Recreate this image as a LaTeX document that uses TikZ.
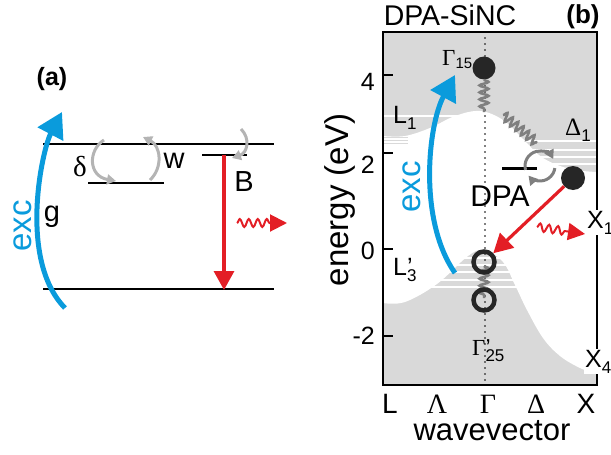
\documentclass[tikz,border=0pt]{standalone}
\usepackage{fontspec}
\setmainfont{Liberation Sans}
\newfontfamily\grk{Liberation Serif}
\usetikzlibrary{arrows.meta,positioning,decorations.pathmorphing}
\definecolor{excblue}{HTML}{0A9BDC}
\definecolor{emred}{HTML}{E31E25}
\definecolor{bandgray}{HTML}{D9D9D9}
\definecolor{relgray}{HTML}{B4B4B4}
\definecolor{phgray}{HTML}{7F7F7F}
\newcommand{\lsub}[1]{\raisebox{-6pt}{\fontsize{17}{17}\selectfont #1}}
\tikzset{lbl/.style={inner sep=0pt,font=\fontsize{31}{32}\selectfont},ticklbl/.style={inner sep=0pt,anchor=east,font=\fontsize{25}{26}\selectfont},sym/.style={inner sep=0pt,font=\fontsize{25}{26}\selectfont},kpt/.style={inner sep=0pt,anchor=base,font=\fontsize{28}{29}\selectfont},panel/.style={inner sep=0pt,font=\fontsize{25}{26}\selectfont\bfseries},level/.style={line width=2pt},exc/.style={excblue,line width=5pt,-{Triangle[length=25pt,width=28pt]}},emit/.style={emred,line width=3.2pt,-{Triangle[length=19pt,width=20pt]}},photon/.style={emred,line width=2pt,decorate,decoration={snake,amplitude=4pt,segment length=9pt,post length=17pt},-{Triangle[length=17pt,width=17pt]}},relax/.style={relgray,line width=3pt,-{Triangle[length=9pt,width=10pt]}},phonon/.style={phgray,line width=2.5pt,decorate,decoration={snake,amplitude=4.5pt,segment length=7pt}},spin/.style={phgray,line width=3pt,-{Triangle[length=9pt,width=10pt]}},electron/.style={circle,fill=black!85,inner sep=0pt},hole/.style={circle,draw=black!85,line width=4.5pt,inner sep=0pt,minimum size=21pt}}

\begin{document}
\begin{tikzpicture}[x=1pt,y=-1pt]
\useasboundingbox (0,0) rectangle (611,455);
% (a) level scheme
\node[panel] (tagA) at (52,79) {(a)};
\coordinate (upL) at (43,144); \coordinate (upR) at (274,144);
\coordinate (gsL) at (43,289); \coordinate (gsR) at (274,289);
\coordinate (dkL) at (88,183); \coordinate (dkR) at (164,183);
\coordinate (bL) at (202,155); \coordinate (bR) at (247,155);
\draw[level] (upL) -- (upR);
\draw[level] (gsL) -- (gsR);
\draw[level] (dkL) -- (dkR);
\draw[level] (bL) -- (bR);
\coordinate (bTop) at (224,155); \coordinate (bBot) at (224,290);
\draw[emit] (bTop) -- (bBot);
\coordinate (phA0) at (237,223); \coordinate (phA1) at (287,223);
\draw[photon] (phA0) -- (phA1);
\coordinate (excA0) at (65,308); \coordinate (excA1) at (62,112);
\draw[exc] (excA0) .. controls (18,260) and (42,150) .. (excA1);
\draw[relax] (104,140) .. controls (88,150) and (88,176) .. (116,181);
\draw[relax] (150,180) .. controls (163,168) and (161,146) .. (143,137);
\draw[relax] (241,129) .. controls (251,139) and (247,153) .. (232,158);
\node[lbl,font=\fontsize{29}{30}\selectfont\grk] (delta) at (80,167) {δ};
\node[lbl,font=\fontsize{29}{30}\selectfont] (wLbl) at (174,161) {w};
\node[lbl,font=\fontsize{29}{30}\selectfont] (bLbl) at (244,182) {B};
\node[lbl,font=\fontsize{29}{30}\selectfont] (gLbl) at (52,217) {g};
\node[lbl,excblue,rotate=90,font=\fontsize{33}{34}\selectfont] (excA) at (23,226) {exc};

% (b) band diagram
\begin{scope}
\clip (383,32) rectangle (597,385);
\fill[bandgray] (383,32) rectangle (597,385);
\fill[white] plot[smooth,tension=0.6] coordinates {(383,136) (405,136) (430,128) (455,116) (480,111) (503,120) (523,139) (543,158) (570,169) (597,172)}
  -- plot[smooth,tension=0.6] coordinates {(597,374) (580,368) (560,356) (543,338) (527,310) (515,285) (503,262) (484,250) (468,256) (437,284) (405,302) (383,303)} -- cycle;
\draw[white,line width=1.5pt] (383,116) -- (470,116);
\foreach \yy in {141,150,157,164} \draw[white,line width=1.2pt] (500,\yy) -- (597,\yy);
\foreach \yy in {258,265,272,280,287} \draw[white,line width=1.2pt] (420,\yy) -- (530,\yy);
\foreach \yy in {137,140,143} \draw[bandgray,line width=0.8pt] (383,\yy) -- (408,\yy);
\end{scope}
\draw[line width=1.5pt] (383,32) rectangle (597,385);
\foreach \yy in {75,153,249,336} \draw[line width=1.5pt] (383,\yy) -- (393,\yy);
\node[ticklbl] (t4) at (375,82) {4};
\node[ticklbl] (t2) at (375,165) {2};
\node[ticklbl] (t0) at (375,251) {0};
\node[ticklbl] (tm2) at (375,336) {-2};
\node[lbl,rotate=90,font=\fontsize{33}{34}\selectfont] (yLbl) at (340,200) {energy (eV)};
\draw[line width=1.6pt,line cap=round,dash pattern=on 0pt off 6pt] (485,32) -- (485,385);
\node[lbl,font=\fontsize{28.5}{30}\selectfont] (title) at (450,15) {DPA-SiNC};
\node[panel,font=\fontsize{26}{27}\selectfont\bfseries] (tagB) at (583,17) {(b)};
% k points
\node[kpt] (kL) at (390,413) {L};
\node[kpt,font=\fontsize{28}{29}\selectfont\grk] (kLam) at (437,413) {Λ};
\node[kpt,font=\fontsize{28}{29}\selectfont\grk] (kGam) at (488,413) {Γ};
\node[kpt,font=\fontsize{28}{29}\selectfont\grk] (kDel) at (536,413) {Δ};
\node[kpt] (kX) at (586,413) {X};
\node[lbl] (xLbl) at (492,431) {wavevector};
% carriers
\node[electron,minimum size=23pt] (G15) at (484,68) {};
\node[electron,minimum size=24pt] (D1) at (573,178) {};
\coordinate (cbMin) at (484,112);
\coordinate (ph0) at (503,115); \coordinate (ph1) at (537,143);
\draw[phonon] (G15) -- (cbMin);
\draw[phonon] (ph0) -- (ph1);
\coordinate (dpaL) at (502,168); \coordinate (dpaR) at (537,168);
\draw[line width=3pt] (dpaL) -- (dpaR);
\coordinate (spinC) at (540,166);
\draw[spin] ([shift={(195:15pt)}]spinC) arc[start angle=195,end angle=28,radius=15pt];
\draw[spin] ([shift={(-8:15pt)}]spinC) arc[start angle=-8,end angle=-140,radius=15pt];
\coordinate (vb0) at (484,266); \coordinate (vb1) at (484,298);
\draw[phonon] (vb0) -- (vb1);
\node[hole] (h1) at (484,262) {};
\node[hole] (h2) at (484,300) {};
\draw[emit] (D1) -- (h1);
\coordinate (phB0) at (537,227); \coordinate (phB1) at (585,234);
\draw[photon] (phB0) -- (phB1);
\coordinate (excB0) at (455,273); \coordinate (excB1) at (455,75);
\draw[exc] (excB0) .. controls (418,220) and (428,125) .. (excB1);
% labels
\node[lbl,excblue,rotate=90,font=\fontsize{33}{34}\selectfont] (excB) at (412,187) {exc};
\node[lbl,font=\fontsize{30}{31}\selectfont] (dpa) at (500,196) {DPA};
\node[sym,anchor=base west,font=\fontsize{23}{24}\selectfont] (lG15) at (442,65) {{\grk Γ}\raisebox{-3pt}{\fontsize{15}{15}\selectfont 15}};
\node[sym,anchor=base west] (lL1) at (393,123) {L\lsub{1}};
\node[sym,anchor=base west] (lL3) at (393,275) {L\rlap{’}\lsub{3}};
\node[sym,anchor=base west] (lD1) at (565,135) {{\grk Δ}\lsub{1}};
\node[sym,anchor=base west,fill=white,inner sep=1pt] (lX1) at (586,228) {X\lsub{1}};
\node[sym,anchor=base west,fill=white,inner sep=1pt] (lX4) at (584,367) {X\lsub{4}};
\node[sym,anchor=base west,font=\fontsize{23}{24}\selectfont] (lG25) at (472,355) {{\grk Γ}\rlap{’}\lsub{25}};
\end{tikzpicture}
\end{document}
